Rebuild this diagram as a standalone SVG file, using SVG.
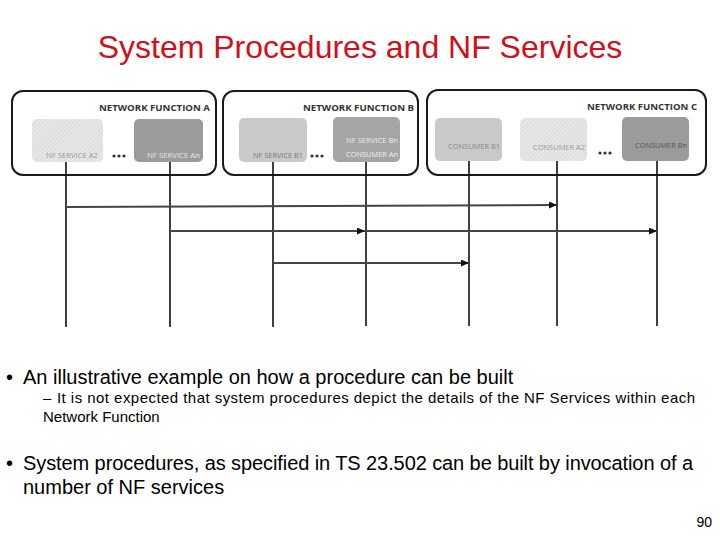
<svg xmlns="http://www.w3.org/2000/svg" width="720" height="540" viewBox="0 0 720 540">
<defs>
<style>
.nf{fill:#fff;stroke:#1a1a1a;stroke-width:2}
.nft{font-family:"Open Sans","DejaVu Sans Condensed",sans-serif;font-weight:bold;font-size:9.5px;fill:#333}
.sl{font-family:"Open Sans","DejaVu Sans Condensed",sans-serif;font-size:7px}
.light{fill:#c9c9c9}
.mid{fill:#a5a5a5}
.dark{fill:#9b9b9b}
.hatch{fill:url(#hp)}
.dots{fill:#333}
.life{stroke:#111;stroke-width:1.6;fill:none}
.msg{stroke:#444;stroke-width:2;fill:none;marker-end:url(#ah)}
.body{font-family:"Liberation Sans",Arial,sans-serif;fill:#000}
</style>
<pattern id="hp" width="3" height="3" patternUnits="userSpaceOnUse" patternTransform="rotate(45)">
<rect width="3" height="3" fill="#e8e8e8"/>
<line x1="0" y1="0" x2="0" y2="3" stroke="#cfcfcf" stroke-width="1.2"/>
</pattern>
<marker id="ah" markerWidth="8" markerHeight="7" refX="8" refY="3.5" orient="auto" markerUnits="userSpaceOnUse">
<path d="M0,0 L8,3.5 L0,7 z" fill="#111"/>
</marker>
</defs>
<rect width="720" height="540" fill="#fff"/>
<text x="360" y="58" text-anchor="middle" font-family="Liberation Sans,Arial,sans-serif" font-size="32" fill="#d0101a">System Procedures and NF Services</text>

<g id="nf-a">
<rect class="nf" x="12" y="91" width="204" height="84" rx="11"/>
<text class="nft" x="99" y="111" textLength="111" lengthAdjust="spacingAndGlyphs">NETWORK FUNCTION A</text>
</g>
<g id="svc-a2">
<rect class="hatch" x="32" y="119" width="71" height="43" rx="5"/>
<text class="sl" x="46" y="158" fill="#999" textLength="52" lengthAdjust="spacingAndGlyphs">NF SERVICE A2</text>
</g>
<g id="svc-an">
<rect class="dark" x="134" y="119" width="69" height="43" rx="5"/>
<text class="sl" x="147" y="158" fill="#e8e8e8" textLength="53" lengthAdjust="spacingAndGlyphs">NF SERVICE An</text>
</g>
<g id="dots-a" class="dots"><circle cx="114" cy="156" r="1.6"/><circle cx="119" cy="156" r="1.6"/><circle cx="124" cy="156" r="1.6"/></g>

<g id="nf-b">
<rect class="nf" x="223" y="91" width="195" height="84" rx="11"/>
<text class="nft" x="303" y="111" textLength="111" lengthAdjust="spacingAndGlyphs">NETWORK FUNCTION B</text>
</g>
<g id="svc-b1">
<rect class="light" x="239" y="118" width="68" height="44" rx="5"/>
<text class="sl" x="253" y="158" fill="#777" textLength="50" lengthAdjust="spacingAndGlyphs">NF SERVICE B1</text>
</g>
<g id="svc-bn">
<rect class="mid" x="333" y="117" width="67" height="45" rx="5"/>
<text class="sl" x="346" y="143" fill="#eee" textLength="52" lengthAdjust="spacingAndGlyphs">NF SERVICE Bn</text>
<text class="sl" x="346" y="157" fill="#f2f2f2" textLength="52" lengthAdjust="spacingAndGlyphs">CONSUMER An</text>
</g>
<g id="dots-b" class="dots"><circle cx="312" cy="156" r="1.6"/><circle cx="317" cy="156" r="1.6"/><circle cx="322" cy="156" r="1.6"/></g>

<g id="nf-c">
<rect class="nf" x="427" y="90" width="279" height="85" rx="11"/>
<text class="nft" x="587" y="110" textLength="110" lengthAdjust="spacingAndGlyphs">NETWORK FUNCTION C</text>
</g>
<g id="cons-b1">
<rect class="light" x="435" y="118" width="67" height="43" rx="5"/>
<text class="sl" x="448" y="149" fill="#888" textLength="52" lengthAdjust="spacingAndGlyphs">CONSUMER B1</text>
</g>
<g id="cons-a2">
<rect class="hatch" x="520" y="118" width="67" height="43" rx="5"/>
<text class="sl" x="533" y="150" fill="#999" textLength="52" lengthAdjust="spacingAndGlyphs">CONSUMER A2</text>
</g>
<g id="cons-bn">
<rect class="dark" x="622" y="117" width="67" height="44" rx="5"/>
<text class="sl" x="635" y="148" fill="#555" textLength="52" lengthAdjust="spacingAndGlyphs">CONSUMER Bn</text>
</g>
<g id="dots-c" class="dots"><circle cx="600" cy="153" r="1.6"/><circle cx="605" cy="153" r="1.6"/><circle cx="610" cy="153" r="1.6"/></g>

<g id="connectors">
<path class="life" d="M66,162V327M170,162V327M273,162V327M366,162V326M469,161V326M557,161V326M657,161V326"/>
<path class="msg" d="M66,207L557,205"/>
<path class="msg" d="M170,231L365,231"/>
<path class="msg" d="M366,231L657,231"/>
<path class="msg" d="M273,263L469,263"/>
</g>

<g id="bullets" class="body">
<text x="6" y="384" font-size="20">•</text>
<text x="23" y="384" font-size="20">An illustrative example on how a procedure can be built</text>
<text x="43" y="403" font-size="15">–</text>
<text x="57" y="403" font-size="15" textLength="638" lengthAdjust="spacing">It is not expected that system procedures depict the details of the NF Services within each</text>
<text x="43" y="422" font-size="15">Network Function</text>
<text x="6" y="470" font-size="20">•</text>
<text x="23" y="470" font-size="20" textLength="670" lengthAdjust="spacing">System procedures, as specified in TS 23.502 can be built by invocation of a</text>
<text x="23" y="494" font-size="20">number of NF services</text>
<text x="712" y="527" font-size="14" text-anchor="end">90</text>
</g>
</svg>
